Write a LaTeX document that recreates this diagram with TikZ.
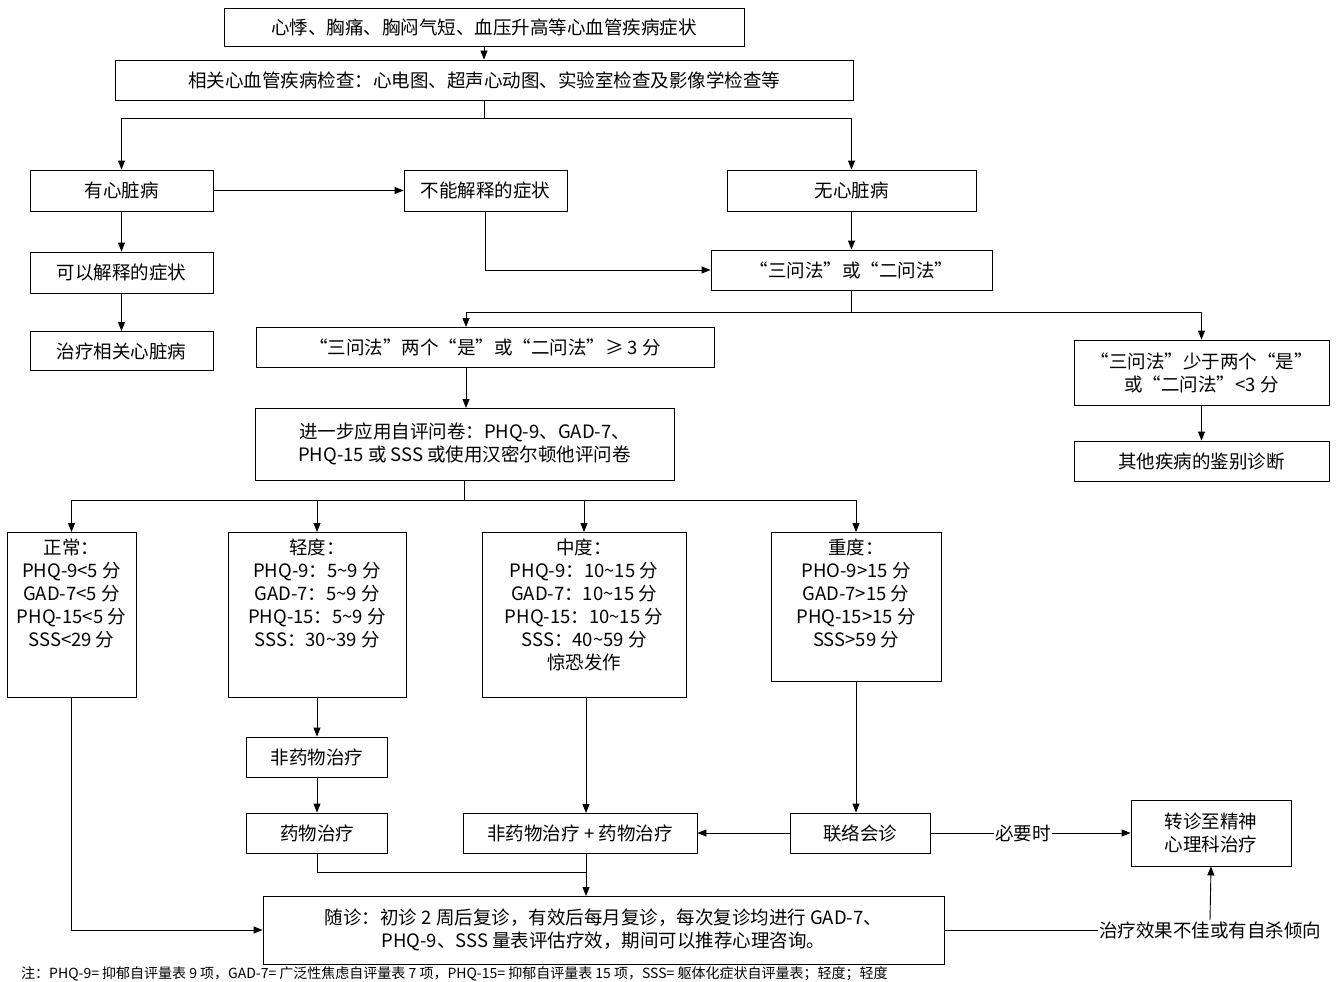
\documentclass[tikz,border=0pt]{standalone}
\usepackage{fontspec}
\setmainfont{Noto Sans CJK SC}
\usetikzlibrary{arrows.meta}
\begin{document}
\begin{tikzpicture}[x=1pt,y=-1pt,
  bx/.style={draw,line width=0.9pt,inner sep=0pt,align=center,font=\fontsize{18.5}{23}\selectfont},
  lbl/.style={inner sep=1pt,font=\fontsize{18.5}{23}\selectfont},
  ar/.style={-{Triangle[length=9pt,width=7pt]},line width=0.9pt},
  ln/.style={line width=0.9pt}]
\useasboundingbox[fill=white] (0,0) rectangle (1339,982);
\node[bx,minimum width=520,minimum height=38] (top) at (484,27) {心悸、胸痛、胸闷气短、血压升高等心血管疾病症状};
\node[bx,minimum width=738,minimum height=40] (ex) at (484,80) {相关心血管疾病检查：心电图、超声心动图、实验室检查及影像学检查等};
\node[bx,minimum width=183,minimum height=41] (yx) at (121.5,190.5) {有心脏病};
\node[bx,minimum width=163,minimum height=41] (bn) at (485.5,190.5) {不能解释的症状};
\node[bx,minimum width=249,minimum height=41] (wx) at (851.5,190.5) {无心脏病};
\node[bx,minimum width=183,minimum height=41] (ky) at (121.5,272.5) {可以解释的症状};
\node[bx,minimum width=183,minimum height=39] (zl) at (121.5,351) {治疗相关心脏病};
\node[bx,minimum width=281,minimum height=40] (sw) at (851.5,270) {“三问法”或“二问法”};
\node[bx,minimum width=458,minimum height=40] (sl) at (485,347) {“三问法”两个“是”或“二问法”≥ 3 分};
\node[bx,minimum width=255,minimum height=65] (sr) at (1201.5,372.5) {“三问法”少于两个“是”\\或“二问法”<3 分};
\node[bx,minimum width=255,minimum height=40] (qt) at (1201.5,461) {其他疾病的鉴别诊断};
\node[bx,minimum width=419,minimum height=72] (jy) at (464.5,444) {进一步应用自评问卷：PHQ-9、GAD-7、\\PHQ-15 或 SSS 或使用汉密尔顿他评问卷};
\node[bx,minimum width=129,minimum height=165,anchor=north] (zc) at (71.5,532) {};
\node[anchor=north,lbl,align=center] at (zc.north) [yshift=-6pt] {正常：\\PHQ-9<5 分\\GAD-7<5 分\\PHQ-15<5 分\\SSS<29 分};
\node[bx,minimum width=178,minimum height=165,anchor=north] (qd) at (317,532) {};
\node[anchor=north,lbl,align=center] at (qd.north) [yshift=-6pt] {轻度：\\PHQ-9：5\textasciitilde9 分\\GAD-7：5\textasciitilde9 分\\PHQ-15：5\textasciitilde9 分\\SSS：30\textasciitilde39 分};
\node[bx,minimum width=204,minimum height=165,anchor=north] (zd) at (584,532) {};
\node[anchor=north,lbl,align=center] at (zd.north) [yshift=-6pt] {中度：\\PHQ-9：10\textasciitilde15 分\\GAD-7：10\textasciitilde15 分\\PHQ-15：10\textasciitilde15 分\\SSS：40\textasciitilde59 分\\惊恐发作};
\node[bx,minimum width=170,minimum height=149,anchor=north] (sd) at (856,532) {};
\node[anchor=north,lbl,align=center] at (sd.north) [yshift=-6pt] {重度：\\PHO-9>15 分\\GAD-7>15 分\\PHQ-15>15 分\\SSS>59 分};
\node[bx,minimum width=141,minimum height=40] (fy) at (317,757) {非药物治疗};
\node[bx,minimum width=141,minimum height=40] (yw) at (317,833) {药物治疗};
\node[bx,minimum width=234,minimum height=40] (fj) at (580,833) {非药物治疗 + 药物治疗};
\node[bx,minimum width=140,minimum height=40] (ll) at (860,833) {联络会诊};
\node[bx,minimum width=160,minimum height=66] (zz) at (1211,833) {转诊至精神\\心理科治疗};
\node[bx,minimum width=681,minimum height=68] (sz) at (603.5,930) {随诊：初诊 2 周后复诊，有效后每月复诊，每次复诊均进行 GAD-7、\\PHQ-9、SSS 量表评估疗效，期间可以推荐心理咨询。};
\node[lbl] (bj) at (1210,930) {治疗效果不佳或有自杀倾向};
\node[lbl] (by) at (1023,833) {必要时};
\node[lbl,anchor=west,font=\fontsize{14}{17}\selectfont] (note) at (20,974) {注：PHQ-9= 抑郁自评量表 9 项，GAD-7= 广泛性焦虑自评量表 7 项，PHQ-15= 抑郁自评量表 15 项，SSS= 躯体化症状自评量表；轻度；轻度};
\draw[ar] (top) -- (ex);
\draw[ln] (ex.south) -- (484,118) coordinate (c1);
\draw[ar] (c1) -| (yx.north);
\draw[ar] (c1) -| (wx.north);
\draw[ar] (yx) -- (bn);
\draw[ar] (yx) -- (ky);
\draw[ar] (ky) -- (zl);
\draw[ar] (bn.south) |- (sw.west);
\draw[ar] (wx) -- (sw);
\draw[ln] (sw.south) -- (851.5,312) coordinate (c2);
\draw[ar] (c2) -| (466,327);
\draw[ar] (c2) -| (sr.north);
\draw[ar] (466,367) -- (466,408);
\draw[ar] (sr) -- (qt);
\draw[ln] (jy.south) -- (464.5,500) coordinate (c3);
\draw[ar] (c3) -| (zc.north);
\draw[ar] (c3) -| (qd.north);
\draw[ar] (c3) -| (zd.north);
\draw[ar] (c3) -| (sd.north);
\draw[ar] (zc.south) |- (sz.west);
\draw[ar] (qd.south) -- (fy.north);
\draw[ar] (fy) -- (yw);
\draw[ar] (586,697) -- (586,813);
\draw[ar] (sd.south) -- (sd.south |- ll.north);
\draw[ar] (ll) -- (fj);
\draw[ln] (ll) -- (by);
\draw[ar] (by) -- (zz);
\draw[ln] (yw.south) |- (586,872);
\draw[ar] (586,853) -- (586,896);
\draw[ln] (sz.east |- bj.west) -- (bj.west);
\draw[ar] (bj.north) -- (zz.south);
\end{tikzpicture}
\end{document}
